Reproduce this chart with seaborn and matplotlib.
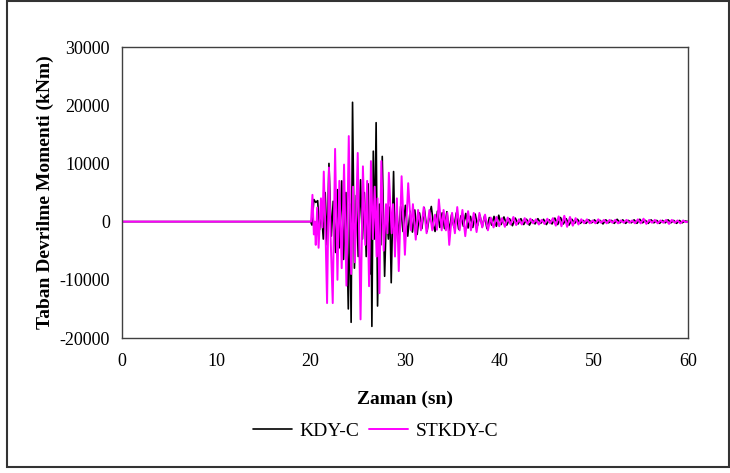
import pandas as pd
import matplotlib.pyplot as plt
import seaborn as sns
from matplotlib.patches import Rectangle

# Extrema (time in s, moment in kNm)
kdy_t = [0, 20.0, 20.15, 20.35, 20.55, 20.75, 20.95, 21.15, 21.35, 21.55, 21.75, 21.95,
         22.2, 22.4, 22.65, 22.85, 23.05, 23.3, 23.5, 23.75, 24.0, 24.15, 24.3, 24.45,
         24.65, 24.85, 25.05, 25.3, 25.5, 25.7, 25.9, 26.1, 26.3, 26.4, 26.5, 26.65,
         26.8, 26.95, 27.1, 27.3, 27.45, 27.6, 27.85, 28.05, 28.25, 28.4, 28.55, 28.8,
         28.95, 29.15, 29.35, 29.55, 29.8, 30.05, 30.3, 30.55, 30.8, 31.05, 31.3, 31.55,
         31.8, 32.05, 32.35, 32.6, 32.8, 33.05, 33.2, 33.45, 33.7, 33.95, 34.2, 34.45,
         34.7, 34.95, 35.2, 35.45, 35.7, 35.95, 36.2, 36.45, 36.7, 36.95, 37.2, 37.45,
         37.7, 37.95, 38.2, 38.45, 38.7, 38.95, 39.2, 39.45, 39.7, 39.95, 40.2, 40.5,
         40.8, 41.1, 41.4, 41.7, 42.0, 42.3, 42.6, 42.9, 43.2, 43.5, 43.8, 44.1, 44.4,
         44.7, 45.0, 45.3, 45.6, 45.9, 46.2, 46.5, 46.8, 47.1, 47.4, 47.7, 48.0, 48.3,
         48.6, 48.9, 49.2, 49.5, 49.8, 50.1, 50.4, 50.7, 51.0, 51.3, 51.6, 51.9, 52.2,
         52.5, 52.8, 53.1, 53.4, 53.7, 54.0, 54.3, 54.6, 54.9, 55.2, 55.5, 55.8, 56.1,
         56.4, 56.7, 57.0, 57.3, 57.6, 57.9, 58.2, 58.5, 58.8, 59.1, 59.4, 59.7, 60.0]
kdy_v = [0, 0, -600, 3800, 3300, 3600, -1400, 2000, -3000, 5000, -4000, 10000,
         -2500, 3500, -5300, 5500, -4500, 7000, -6500, 5000, -15000, 3000, -17300, 20500,
         -8000, 4500, -6000, 7200, -3000, 5000, -6000, 6500, -9000, 5000, -18000, 12100,
         -3000, 17000, -14500, 3000, -4000, 11200, -9400, 2000, -3000, 2500, -10500, 8600,
         -4200, 2000, -3000, 2600, -1700, 2800, -2500, 1800, -1800, 2000, -2200, 1500,
         -1200, 2400, -1700, 1000, 2600, -800, -1700, 1800, -1000, 1500, -1200, 1700,
         -1600, 1200, -1000, 1500, -1300, 1000, -800, 1400, -1100, 900, -1000, 1300,
         -700, 1100, -900, 1000, -1200, 700, -600, 900, -800, 1100, -500, 800,
         -600, 500, -700, 600, -400, 500, -500, 400, -600, 300, -400, 500, -300,
         400, -500, 300, -400, 600, -500, 700, -400, 500, -600, 400, -300, 400,
         -300, 200, -300, 300, -200, 300, -300, 200, -400, 300, -200, 200, -300,
         400, -200, 300, -300, 200, -200, 300, -300, 400, -200, 200, -300, 300,
         -200, 200, -300, 200, -200, 300, -200, 200, -300, 200, -200, 100, 0]

stkdy_t = [0, 20.05, 20.2, 20.35, 20.45, 20.55, 20.7, 20.85, 21.1, 21.25, 21.4, 21.6,
           21.75, 21.95, 22.15, 22.35, 22.6, 22.85, 23.05, 23.3, 23.55, 23.8, 24.05, 24.3,
           24.5, 24.7, 25.0, 25.3, 25.55, 25.8, 26.0, 26.2, 26.4, 26.6, 26.8, 27.0,
           27.1, 27.3, 27.5, 27.75, 28.0, 28.15, 28.3, 28.6, 28.75, 28.95, 29.15, 29.35,
           29.65, 30.0, 30.35, 30.65, 30.85, 31.15, 31.4, 31.7, 32.0, 32.3, 32.6, 32.9,
           33.2, 33.4, 33.6, 33.9, 34.1, 34.35, 34.5, 34.7, 35.0, 35.3, 35.55, 35.8,
           36.1, 36.4, 36.7, 37.0, 37.3, 37.6, 37.9, 38.2, 38.5, 38.8, 39.1, 39.4,
           39.7, 40.0, 40.3, 40.6, 40.9, 41.2, 41.5, 41.8, 42.1, 42.4, 42.7, 43.0,
           43.3, 43.6, 43.9, 44.2, 44.5, 44.8, 45.1, 45.4, 45.7, 46.0, 46.3, 46.6,
           46.9, 47.2, 47.5, 47.8, 48.1, 48.4, 48.7, 49.0, 49.3, 49.6, 49.9, 50.2,
           50.5, 50.8, 51.1, 51.4, 51.7, 52.0, 52.3, 52.6, 52.9, 53.2, 53.5, 53.8,
           54.1, 54.4, 54.7, 55.0, 55.3, 55.6, 55.9, 56.2, 56.5, 56.8, 57.1, 57.4,
           57.7, 58.0, 58.3, 58.6, 58.9, 59.2, 59.5, 59.8, 60.0]
stkdy_v = [0, 0, 4600, -2200, 0, -4000, 2400, -4500, 4000, -1000, 8600, -3000,
           -14000, 9300, -4000, -14000, 12500, -10000, 7000, -8000, 9800, -11000, 14700, -9000,
           6000, -7000, 11800, -16800, 9500, -4000, 7000, -11100, 10400, -3000, 6000, -6000,
           4000, -12300, 10400, -5000, 3000, -2000, 8400, -2000, 3000, -6000, 4000, -8500,
           7800, -5700, 6600, -1500, 3000, -3100, 2000, -1500, 2500, -2000, 2000, -1500,
           1200, -1400, 3800, -1500, 2000, -1500, 1500, -4000, 1500, -2000, 2500, -1500,
           2000, -2500, 1800, -1500, 1500, -1800, 1500, -1000, 1200, -1500, 700, -1000,
           800, -800, 600, -900, 700, -500, 800, -600, 400, -500, 600, -400,
           500, -300, 400, -500, 300, -400, 500, -300, 600, -700, 900, -800,
           1000, -900, 800, -700, 600, -500, 400, -300, 400, -300, 200, -300,
           400, -200, 300, -300, 300, -200, 300, -300, 200, -200, 300, -200,
           200, -300, 400, -300, 500, -400, 300, -200, 300, -300, 200, -200,
           300, -400, 300, -200, 200, -300, 200, -100, 0]

xticks = [0, 10, 20, 30, 40, 50, 60]
yticks = [-20000, -10000, 0, 10000, 20000, 30000]

sns.set_style("white")
plt.rcParams['font.family'] = ['Liberation Serif', 'DejaVu Serif']
plt.rcParams['axes.unicode_minus'] = False
plt.rcParams['text.color'] = 'black'
plt.rcParams['axes.labelcolor'] = 'black'
plt.rcParams['xtick.color'] = 'black'
plt.rcParams['ytick.color'] = 'black'

df_kdy = pd.DataFrame({'t': kdy_t, 'v': kdy_v})
df_st = pd.DataFrame({'t': stkdy_t, 'v': stkdy_v})

fig = plt.figure(figsize=(7.3, 4.73), dpi=100)
ax = fig.add_axes([0.167, 0.2854, 0.7753, 0.6152])

sns.lineplot(data=df_kdy, x='t', y='v', estimator=None, sort=False,
             color='black', lw=1.2, label='KDY-C', ax=ax)
sns.lineplot(data=df_st, x='t', y='v', estimator=None, sort=False,
             color='#FF00FF', lw=1.4, label='STKDY-C', ax=ax)

ax.set_xlim(0, 60)
ax.set_ylim(-20000, 30000)
ax.set_xticks(xticks)
ax.set_yticks(yticks)
ax.tick_params(axis='both', labelsize=13, direction='out', length=5, width=1, color='black')
ax.tick_params(axis='x', pad=6)
for s in ax.spines.values():
    s.set_color('#404040')
    s.set_linewidth(1.0)

ax.set_xlabel('Zaman (sn)', fontsize=14, fontweight='bold', labelpad=15)
ax.set_ylabel('Taban Devrilme Momenti (kNm)', fontsize=14, fontweight='bold', labelpad=4)

h, l = ax.get_legend_handles_labels()
ax.get_legend().remove()
fig.legend(h, l, loc='center', bbox_to_anchor=(0.515, 0.088), ncol=2, frameon=False,
           fontsize=14, handlelength=2.0, columnspacing=0.5, handletextpad=0.4)

# outer chart border
fig.patches.append(Rectangle((0.0096, 0.0127), 0.989, 0.985, transform=fig.transFigure,
                             fill=False, edgecolor='#333333', lw=1.5))

fig.savefig('out.png', dpi=100)
